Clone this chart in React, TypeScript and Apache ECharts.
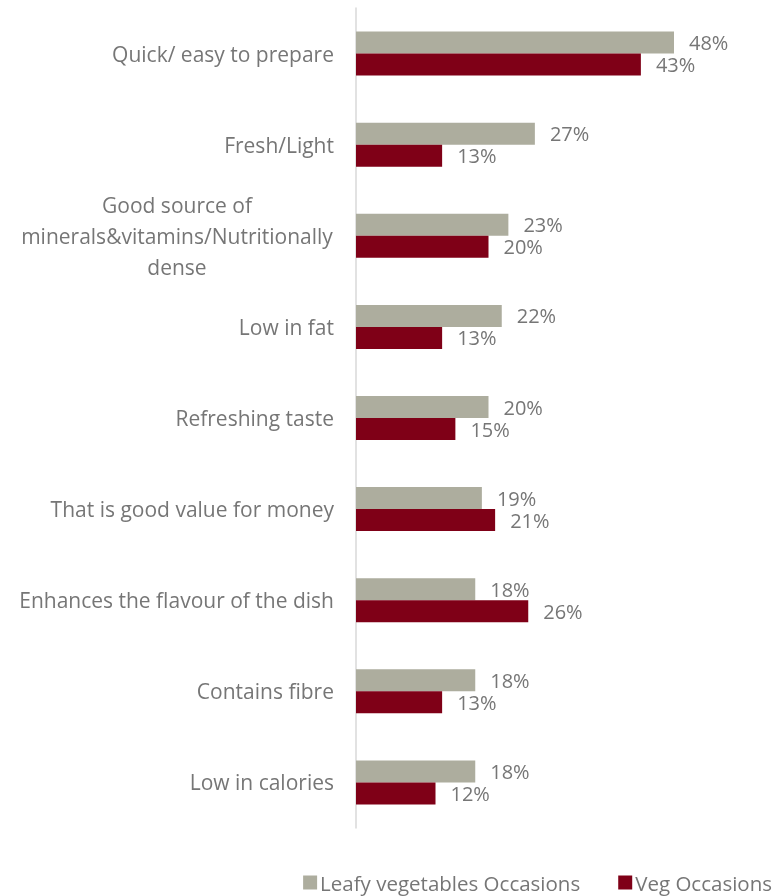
import React, { useEffect, useRef } from "react";
import * as echarts from "echarts";

const categories = [
  "Quick/ easy to prepare",
  "Fresh/Light",
  "Good source of\nminerals&vitamins/Nutritionally\ndense",
  "Low in fat",
  "Refreshing taste",
  "That is good value for money",
  "Enhances the flavour of the dish",
  "Contains fibre",
  "Low in calories",
];
const leafyValues = [48, 27, 23, 22, 20, 19, 18, 18, 18];
const vegValues = [43, 13, 20, 13, 15, 21, 26, 13, 12];
const seriesNames = ["Leafy vegetables Occasions", "Veg Occasions"];

const FONT = "Open Sans";
const TEXT = "#767676";
const FS = 21;
const LABEL_FS = 20;

export default function App() {
  const ref = useRef<HTMLDivElement>(null);
  useEffect(() => {
    const chart = echarts.init(ref.current!, null, { renderer: "svg" });
    const valueLabel = {
      show: true,
      position: "right",
      distance: 15,
      formatter: "{c}%",
      color: TEXT,
      fontSize: LABEL_FS,
      lineHeight: 19,
      fontFamily: FONT,
    };
    chart.setOption({
      animation: false,
      textStyle: { fontFamily: FONT },
      grid: { left: 356, right: 23.5, top: 8, bottom: 68, containLabel: false },
      xAxis: {
        type: "value",
        min: 0,
        max: 60,
        show: false,
      },
      yAxis: {
        type: "category",
        inverse: true,
        data: categories,
        axisLine: { show: true, lineStyle: { color: "#d9d9d9", width: 1.5 } },
        axisTick: { show: false },
        axisLabel: {
          margin: 22,
          color: TEXT,
          fontSize: FS,
          fontFamily: FONT,
          lineHeight: 31,
          formatter: (v: string) =>
            v.includes("\n")
              ? v
                  .split("\n")
                  .map((s) => `{c|${s}}`)
                  .join("\n")
              : v,
          rich: {
            c: {
              width: 314,
              align: "center",
              color: TEXT,
              fontSize: FS,
              fontFamily: FONT,
              lineHeight: 31,
            },
          },
        },
      },
      legend: {
        right: 0,
        bottom: -2,
        itemWidth: 14,
        itemHeight: 14,
        itemGap: 38,
        icon: "rect",
        textStyle: { color: TEXT, fontSize: 20.5, fontFamily: FONT, padding: [0, 0, 0, -2] },
        data: seriesNames,
      },
      series: [
        {
          name: seriesNames[0],
          type: "bar",
          data: leafyValues,
          barWidth: 22,
          barGap: "0%",
          itemStyle: { color: "#adad9e" },
          label: valueLabel,
        },
        {
          name: seriesNames[1],
          type: "bar",
          data: vegValues,
          barWidth: 22,
          barGap: "0%",
          itemStyle: { color: "#7f0017" },
          label: valueLabel,
        },
      ],
    });
    return () => chart.dispose();
  }, []);
  return (
    <div
      ref={ref}
      style={{ position: "fixed", left: 0, top: 0, width: 777, height: 896 }}
    />
  );
}
